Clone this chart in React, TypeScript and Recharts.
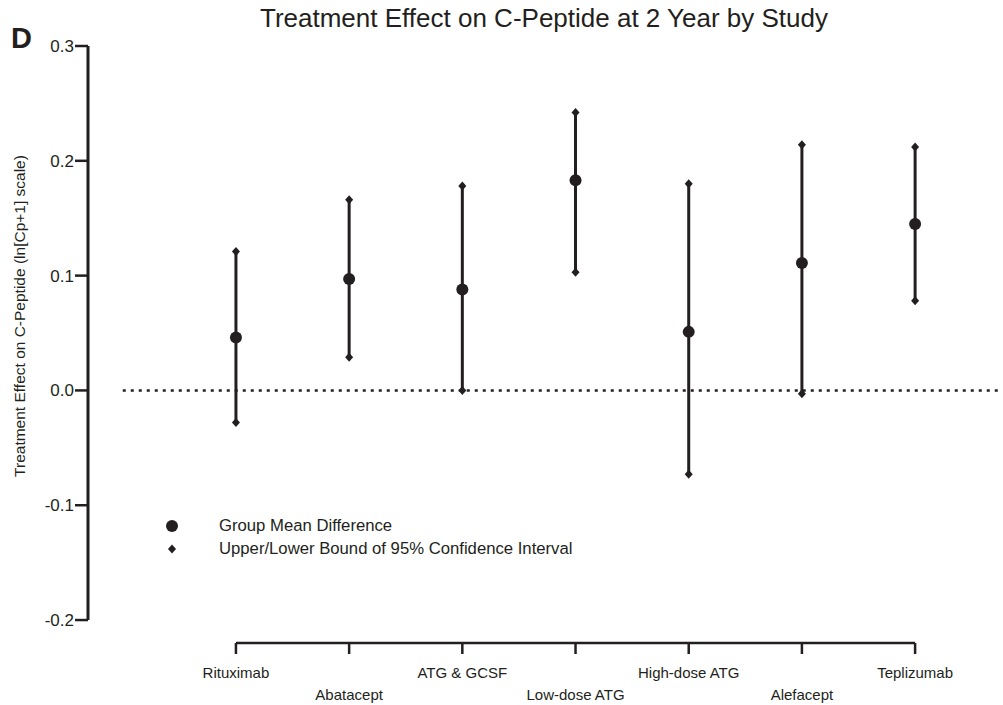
import React from "react";
import {
  ComposedChart,
  ErrorBar,
  ReferenceLine,
  Scatter,
  XAxis,
  YAxis,
} from "recharts";

const studies = [
  "Rituximab",
  "Abatacept",
  "ATG & GCSF",
  "Low-dose ATG",
  "High-dose ATG",
  "Alefacept",
  "Teplizumab",
];
const meanDiff = [0.046, 0.097, 0.088, 0.183, 0.051, 0.111, 0.145];
const upperBound = [0.121, 0.166, 0.178, 0.242, 0.18, 0.214, 0.212];
const lowerBound = [-0.028, 0.029, 0.0, 0.103, -0.073, -0.003, 0.078];
const yTicks = [-0.2, -0.1, 0.0, 0.1, 0.2, 0.3];

const INK = "#231f20";
const FONT = '"Liberation Sans", Arial, Helvetica, sans-serif';

const meanData = studies.map((name, i) => ({
  x: i,
  y: meanDiff[i],
  name,
  err: [meanDiff[i] - lowerBound[i], upperBound[i] - meanDiff[i]],
}));
const boundData = studies.flatMap((name, i) => [
  { x: i, y: upperBound[i], name },
  { x: i, y: lowerBound[i], name },
]);

const Dot = (p: any) => <circle cx={p.cx} cy={p.cy} r={6} fill={INK} />;
const Diamond = (p: any) => (
  <path
    d={`M${p.cx},${p.cy - 4.5}L${p.cx + 4},${p.cy}L${p.cx},${p.cy + 4.5}L${p.cx - 4},${p.cy}Z`}
    fill={INK}
  />
);

function StudyTick({ x, y, payload }: any) {
  const i = payload.value as number;
  return (
    <text
      x={x}
      y={y}
      dy={i % 2 === 0 ? 22 : 44}
      textAnchor="middle"
      fontSize={15}
      fontFamily={FONT}
      fill={INK}
    >
      {studies[i]}
    </text>
  );
}

function ValueTick({ x, y, payload }: any) {
  return (
    <text
      x={x}
      y={y}
      dx={1}
      dy={6}
      textAnchor="end"
      fontSize={17}
      fontFamily={FONT}
      fill={INK}
    >
      {payload.value.toFixed(1)}
    </text>
  );
}

export default function App() {
  return (
    <div
      style={{
        position: "absolute",
        left: 0,
        top: 0,
        width: 1003,
        height: 705,
        background: "#fff",
        fontFamily: FONT,
        color: INK,
      }}
    >
      <div
        style={{
          position: "absolute",
          left: 11,
          top: 24,
          fontSize: 29,
          lineHeight: "29px",
          fontWeight: "bold",
          fontFamily: "Arial, Helvetica, sans-serif",
        }}
      >
        D
      </div>
      <div
        style={{
          position: "absolute",
          left: 0,
          width: 1088,
          top: 3,
          textAlign: "center",
          fontSize: 26,
        }}
      >
        Treatment Effect on C-Peptide at 2 Year by Study
      </div>
      <div
        style={{
          position: "absolute",
          left: 20,
          top: 316,
          transform: "translate(-50%, -50%) rotate(-90deg)",
          whiteSpace: "nowrap",
          fontSize: 15.5,
        }}
      >
        Treatment Effect on C-Peptide (ln[Cp+1] scale)
      </div>
      <div style={{ position: "absolute", left: 160, top: 514, fontSize: 16.7 }}>
        <div style={{ display: "flex", alignItems: "center", height: 23 }}>
          <svg width={24} height={16}>
            <circle cx={12} cy={8} r={6} fill={INK} />
          </svg>
          <span style={{ marginLeft: 35 }}>Group Mean Difference</span>
        </div>
        <div style={{ display: "flex", alignItems: "center", height: 23 }}>
          <svg width={24} height={16}>
            <path d="M12,3.5L16,8L12,12.5L8,8Z" fill={INK} />
          </svg>
          <span style={{ marginLeft: 35 }}>
            Upper/Lower Bound of 95% Confidence Interval
          </span>
        </div>
      </div>
      <ComposedChart
        width={1003}
        height={705}
        margin={{ top: 46, right: 3, bottom: 12, left: 8 }}
        style={{ position: "absolute", left: 0, top: 0 }}
      >
        <XAxis
          dataKey="x"
          type="number"
          domain={[-1.307, 6.75]}
          ticks={[0, 1, 2, 3, 4, 5, 6]}
          allowDataOverflow
          height={50}
          axisLine={false}
          tickLine={{ stroke: INK, strokeWidth: 2.5 }}
          tickSize={11}
          tick={<StudyTick />}
        />
        <YAxis
          dataKey="y"
          type="number"
          domain={[-0.22, 0.3]}
          ticks={yTicks}
          allowDataOverflow
          width={80}
          axisLine={false}
          tickLine={{ stroke: INK, strokeWidth: 2.5 }}
          tickSize={13}
          tick={<ValueTick />}
        />
        <ReferenceLine
          segment={[
            { x: -1.307, y: -0.2 },
            { x: -1.307, y: 0.3 },
          ]}
          stroke={INK}
          strokeWidth={3}
          ifOverflow="visible"
        />
        <ReferenceLine
          segment={[
            { x: 0, y: -0.22 },
            { x: 6, y: -0.22 },
          ]}
          stroke={INK}
          strokeWidth={2.5}
          ifOverflow="visible"
        />
        <ReferenceLine
          segment={[
            { x: -1, y: 0 },
            { x: 6.75, y: 0 },
          ]}
          stroke={INK}
          strokeWidth={2.5}
          strokeDasharray="3 5"
          ifOverflow="visible"
        />
        <Scatter
          data={meanData}
          dataKey="y"
          shape={Dot}
          isAnimationActive={false}
        >
          <ErrorBar
            dataKey="err"
            direction="y"
            width={0}
            stroke={INK}
            strokeWidth={3}
            isAnimationActive={false}
          />
        </Scatter>
        <Scatter
          data={boundData}
          dataKey="y"
          shape={Diamond}
          isAnimationActive={false}
        />
      </ComposedChart>
    </div>
  );
}
